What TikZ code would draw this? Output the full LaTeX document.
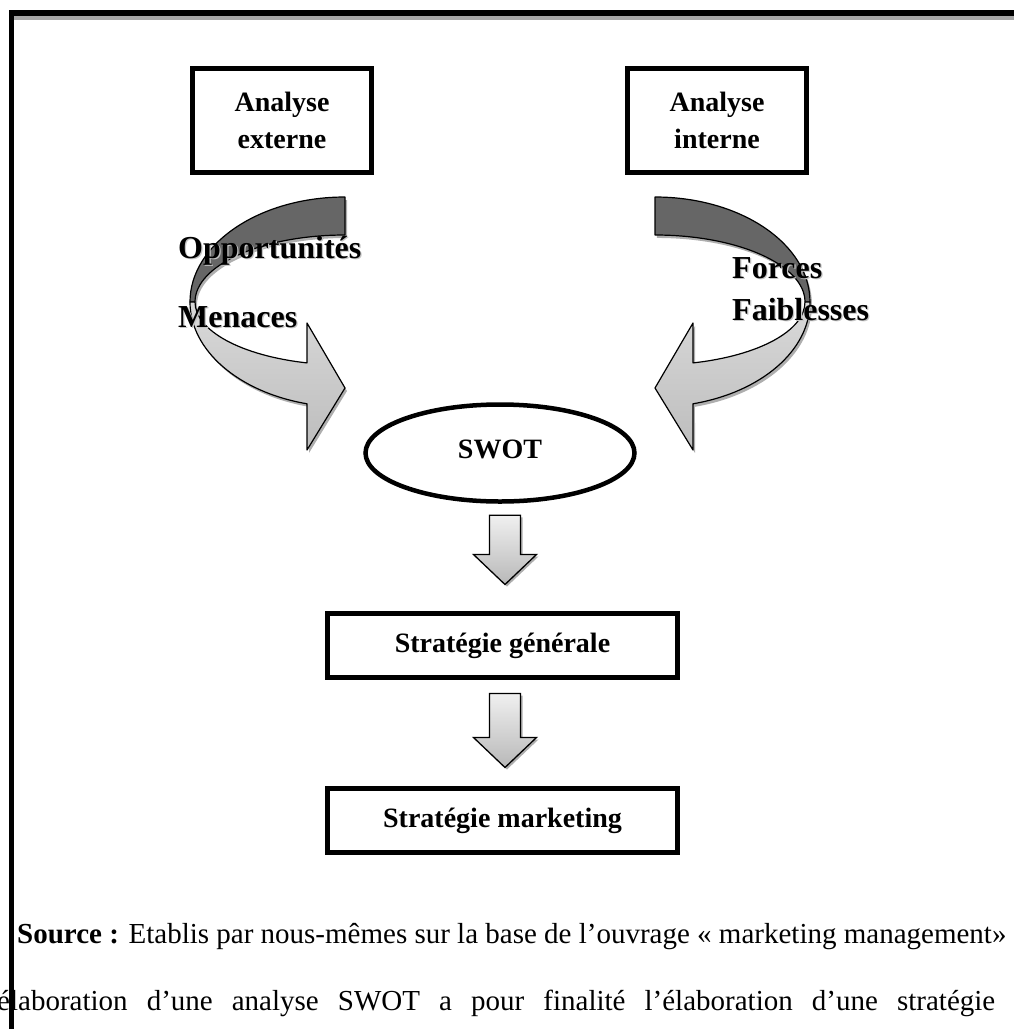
\documentclass[tikz,border=0pt]{standalone}
\usepackage{fontspec}
\setmainfont{Liberation Serif}
\usetikzlibrary{calc,shapes.geometric}

\definecolor{ribbondark}{HTML}{666666}
\definecolor{ribbontop}{HTML}{D9D9D9}
\definecolor{ribbonlow}{HTML}{BDBDBD}
\definecolor{arrowtop}{HTML}{F0F0F0}
\definecolor{arrowlow}{HTML}{B8B8B8}
\definecolor{shadowgray}{HTML}{8C8C8C}
\definecolor{textshadow}{HTML}{C4C4C4}
\definecolor{framegray}{HTML}{A6A6A6}

\newcommand\boxfont{\bfseries\fontsize{28}{37}\selectfont}
\newcommand\labelfont{\bfseries\fontsize{32}{38}\selectfont}
\newcommand\captionfont{\fontsize{29}{34}\selectfont}

\tikzset{
  box/.style={draw, line width=5pt, inner sep=0pt, align=center, font=\boxfont},
  flowlabel/.style={anchor=base west, inner sep=0pt, font=\labelfont},
  flowlabelshadow/.style={flowlabel, text=textshadow},
  captionline/.style={anchor=base west, inner sep=0pt, font=\captionfont},
  ribbonedge/.style={draw=black, line width=1.2pt, line join=round},
  arrowbody/.style={draw=black, line width=1.3pt, top color=arrowtop, bottom color=arrowlow},
  arrowshadow/.style={fill=shadowgray, fill opacity=0.7},
}

% curved ribbon arrow (left version); #1 = scope options, #2 = shadow shift
\newcommand\RibbonArrow[2]{%
  \begin{scope}[#1]
    \begin{scope}[shift={#2}]
      \fill[shadowgray, opacity=0.7]
        (345,197) arc[start angle=270, end angle=180, x radius=155, y radius=105]
        arc[start angle=180, end angle=104.19, x radius=155, y radius=105]
        -- (307,450) -- (345,388) -- (307,323) -- (307,362.9)
        arc[start angle=104.68, end angle=180, x radius=150, y radius=63]
        arc[start angle=180, end angle=270, x radius=150, y radius=67] -- cycle;
    \end{scope}
    \fill[ribbondark, ribbonedge]
      (345,197) arc[start angle=270, end angle=180, x radius=155, y radius=105]
      -- (195,302) arc[start angle=180, end angle=270, x radius=150, y radius=67] -- cycle;
    \shade[ribbonedge, top color=ribbontop, bottom color=ribbonlow]
      (190,302) arc[start angle=180, end angle=104.19, x radius=155, y radius=105]
      -- (307,450) -- (345,388) -- (307,323) -- (307,362.9)
      arc[start angle=104.68, end angle=180, x radius=150, y radius=63] -- cycle;
  \end{scope}}

% straight block arrow from #1 (top of shaft) to #2 (tip)
\newcommand\BlockArrow[3]{%
  \path[#3] ($(#1)+(-15.5,0)$) -- ($(#1)+(15.5,0)$)
    -- ($(#1 |- #2)+(15.5,-30)$) -- ($(#1 |- #2)+(31.5,-30)$)
    -- (#2)
    -- ($(#1 |- #2)+(-31.5,-30)$) -- ($(#1 |- #2)+(-15.5,-30)$) -- cycle;}

\begin{document}
\begin{tikzpicture}[x=1pt, y=-1pt]
  \path[use as bounding box] (0,0) rectangle (1014,1029);
  \clip (0,0) rectangle (1014,1029);

  % analysis boxes
  \node[box, minimum width=178.5pt, minimum height=104pt] (ext) at (282,120.5) {Analyse\\externe};
  \node[box, minimum width=178.5pt, minimum height=104pt] (int) at (717,120.5) {Analyse\\interne};

  % curved arrows towards the SWOT ellipse
  \RibbonArrow{}{(2,3)}
  \RibbonArrow{shift={(1000,0)}, xscale=-1}{(-2,3)}

  % labels on the arrows, with their soft shadows
  \node[flowlabelshadow] (oppS) at (179.2,259.2) {Opportunités};
  \node[flowlabelshadow] (menS) at (179.2,328.2) {Menaces};
  \node[flowlabelshadow] (frcS) at (733.2,279.2) {Forces};
  \node[flowlabelshadow] (fblS) at (733.2,321.2) {Faiblesses};
  \node[flowlabel] (opp) at (178,258) {Opportunités};
  \node[flowlabel] (men) at (178,327) {Menaces};
  \node[flowlabel] (frc) at (732,278) {Forces};
  \node[flowlabel] (fbl) at (732,320) {Faiblesses};

  % SWOT and strategies
  \node[draw, ellipse, line width=4.5pt, minimum width=269pt, minimum height=97pt,
        inner sep=0pt, font=\boxfont] (swot) at (500,453) {\raisebox{7pt}{SWOT}};
  \node[box, minimum width=350pt, minimum height=64pt] (sg) at (502.5,645.5) {Stratégie générale};
  \node[box, minimum width=350pt, minimum height=64pt] (sm) at (502.5,820.5) {Stratégie marketing};

  % block arrows between the stages
  \coordinate (a1top) at ($(swot.south)+(5,11.5)$);
  \coordinate (a1tip) at ($(sg.north)+(2.5,-26.5)$);
  \coordinate (a2top) at ($(sg.south)+(2.5,13.5)$);
  \coordinate (a2tip) at ($(sm.north)+(2.5,-18.5)$);
  \coordinate (a1topS) at ($(a1top)+(2,2)$);
  \coordinate (a1tipS) at ($(a1tip)+(2,2)$);
  \coordinate (a2topS) at ($(a2top)+(2,2)$);
  \coordinate (a2tipS) at ($(a2tip)+(2,2)$);
  \BlockArrow{a1topS}{a1tipS}{arrowshadow}
  \BlockArrow{a1top}{a1tip}{arrowbody}
  \BlockArrow{a2topS}{a2tipS}{arrowshadow}
  \BlockArrow{a2top}{a2tip}{arrowbody}

  % source and running text
  \node[captionline] (src) at (17,943)
    {\textbf{Source :} Etablis par nous-mêmes sur la base de l’ouvrage « marketing management»};
  \node[captionline] (txt) at (-3,1010)
    {\makebox[998pt][s]{élaboration d’une analyse SWOT a pour finalité l’élaboration d’une stratégie}};

  % page frame
  \draw[line width=4pt, framegray] (14,18) -- (1014,18);
  \draw[line width=6pt] (9,13) -- (1014,13);
  \draw[line width=5pt] (11.5,10) -- (11.5,1029);
\end{tikzpicture}
\end{document}
